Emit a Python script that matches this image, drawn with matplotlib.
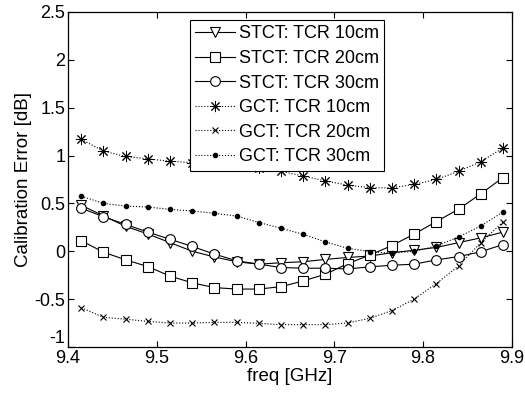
import numpy as np
import matplotlib
matplotlib.use("Agg")
import matplotlib.pyplot as plt

plt.rcParams['font.family'] = ['Liberation Sans', 'DejaVu Sans']

freq = [9.415, 9.44, 9.465, 9.49, 9.515, 9.54, 9.565, 9.59, 9.615, 9.64,
        9.665, 9.69, 9.715, 9.74, 9.765, 9.79, 9.815, 9.84, 9.865, 9.89]

stct_10 = [0.48, 0.37, 0.26, 0.18, 0.09, 0.00, -0.06, -0.11, -0.135, -0.12,
           -0.11, -0.085, -0.065, -0.05, -0.015, 0.01, 0.04, 0.09, 0.14, 0.20]
stct_20 = [0.11, -0.01, -0.09, -0.16, -0.26, -0.33, -0.38, -0.395, -0.395, -0.37,
           -0.31, -0.24, -0.13, -0.04, 0.06, 0.18, 0.31, 0.44, 0.60, 0.77]
stct_30 = [0.45, 0.36, 0.28, 0.20, 0.125, 0.05, -0.03, -0.10, -0.135, -0.17,
           -0.177, -0.177, -0.185, -0.163, -0.146, -0.135, -0.09, -0.056, -0.005, 0.07]
gct_10 = [1.17, 1.045, 0.99, 0.965, 0.94, 0.925, 0.915, 0.905, 0.865, 0.835,
          0.785, 0.735, 0.69, 0.663, 0.663, 0.698, 0.75, 0.835, 0.935, 1.08]
gct_20 = [-0.59, -0.69, -0.71, -0.733, -0.75, -0.75, -0.743, -0.743, -0.753, -0.767,
          -0.767, -0.767, -0.75, -0.70, -0.62, -0.50, -0.337, -0.153, 0.09, 0.305]
gct_30 = [0.575, 0.50, 0.472, 0.462, 0.4375, 0.42, 0.396, 0.368, 0.30, 0.24,
          0.177, 0.097, 0.031, -0.003, -0.021, 0.0, 0.055, 0.149, 0.264, 0.41]

labels = ['STCT: TCR 10cm', 'STCT: TCR 20cm', 'STCT: TCR 30cm',
          'GCT: TCR 10cm', 'GCT: TCR 20cm', 'GCT: TCR 30cm']

fig = plt.figure(figsize=(5.25, 3.97), dpi=100)
ax = fig.add_axes([0.1295, 0.126, 0.8455, 0.844])

lw = 0.8
ax.plot(freq, stct_10, '-', color='black', lw=lw, marker='v', ms=7,
        mfc='white', mec='black', mew=0.8, label=labels[0])
ax.plot(freq, stct_20, '-', color='black', lw=lw, marker='s', ms=7,
        mfc='white', mec='black', mew=0.8, label=labels[1])
ax.plot(freq, stct_30, '-', color='black', lw=lw, marker='o', ms=7,
        mfc='white', mec='black', mew=0.8, label=labels[2])
# MATLAB-style asterisk: 8 spokes
ax.plot(freq, gct_10, ':', color='black', lw=lw, marker=(8, 2, 0), ms=8,
        mec='black', mew=0.7, label=labels[3])
ax.plot(freq, gct_20, ':', color='black', lw=lw, marker='x', ms=5,
        mec='black', mew=0.8, label=labels[4])
ax.plot(freq, gct_30, ':', color='black', lw=lw, marker='.', ms=6,
        mfc='black', mec='black', label=labels[5])

ax.set_xlim(9.4, 9.9)
ax.set_ylim(-1, 2.5)
ax.set_xticks([9.4, 9.5, 9.6, 9.7, 9.8, 9.9])
ax.set_xticklabels(['9.4', '9.5', '9.6', '9.7', '9.8', '9.9'])
ax.set_yticks([-1, -0.5, 0, 0.5, 1, 1.5, 2, 2.5])
ax.set_yticklabels(['-1', '-0.5', '0', '0.5', '1', '1.5', '2', '2.5'])
ax.tick_params(direction='in', top=True, right=True, length=4, width=0.8,
               labelsize=13, pad=2)
# keep "-1" clear of "9.4"
ax.get_yticklabels()[0].set_verticalalignment('bottom')
for s in ax.spines.values():
    s.set_linewidth(0.9)

ax.set_xlabel('freq [GHz]', fontsize=13.5, labelpad=1)
ax.set_ylabel('Calibration Error [dB]', fontsize=13.5, labelpad=2)

leg = ax.legend(loc='upper left', bbox_to_anchor=(0.275, 0.976), borderaxespad=0,
                fontsize=13, labelspacing=0.42, handlelength=2.2, handletextpad=0.2,
                borderpad=0.3, fancybox=False, framealpha=1, edgecolor='black')
leg.get_frame().set_linewidth(0.8)

fig.savefig('out.png', dpi=100)
